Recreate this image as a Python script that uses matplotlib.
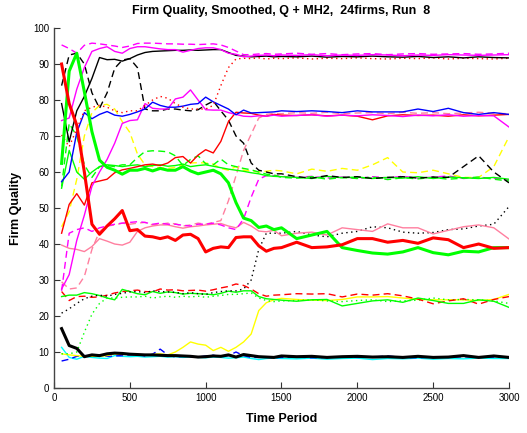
import matplotlib
matplotlib.use("Agg")
import matplotlib.pyplot as plt

# sample times: every 50 periods up to 1500, then every 100
t = list(range(50, 1501, 50)) + list(range(1600, 3001, 100))

red_thick = [90, 79, 73, 60, 45.5, 42.7, 45, 47, 49.3, 43.7, 44, 42.2, 42, 41.5, 42, 41, 42.5, 42.7, 41.5, 37.8,
             38.8, 39.2, 39, 41.8, 42, 42, 39.5, 38, 38.8, 39,
             40.5, 39, 39.2, 39.8, 41.5, 41.5, 40.5, 41, 40.2, 41.7, 41.2, 39, 40, 38.8, 39]
green_thick = [62.4, 88, 93, 82.3, 71.2, 63.3, 61.3, 60.5, 59.4, 60.5, 60.5, 61, 60.3, 61, 60.5, 60.5, 61.5, 60.3, 59.5, 60,
               60.5, 59.5, 57, 51.5, 47.2, 46.5, 44.6, 45, 44, 44.5,
               41.5, 42.5, 43.5, 39, 38.2, 37.5, 37.2, 37.8, 39, 37.6, 37, 38, 37.8, 39, 39]
black_thick = [16.5, 11.8, 11, 8.7, 9.2, 9, 9.5, 9.7, 9.6, 9.4, 9.3, 9.2, 9.2, 9.1, 9, 9, 8.9, 8.8, 8.6, 8.7,
               8.9, 8.8, 9.2, 8.6, 9.3, 9, 8.7, 8.6, 8.5, 8.9,
               8.7, 8.8, 8.5, 8.7, 8.8, 8.6, 8.7, 8.5, 8.8, 8.5, 8.6, 9, 8.5, 8.9, 8.5]

black_solid = [79, 68.4, 77, 81, 86, 91.8, 91.2, 91.3, 90.8, 91.5, 92.5, 93.2, 93.5, 93.6, 93.7, 93.8, 93.8, 93.9, 93.8, 93.9,
               94, 94, 93.2, 92.4, 92.2, 92, 92.1, 92.2, 92, 92.1,
               92, 92.2, 91.9, 92.1, 92, 92.2, 92, 91.9, 92.1, 91.8, 92, 91.7, 92, 91.8, 91.7]
black_dashed = [84, 92.5, 93, 90, 82, 77.7, 82, 88.8, 91.1, 91.5, 89, 77.5, 77, 77, 77.5, 77.5, 77.2, 77, 77.3, 78.6,
                79.7, 77, 74.4, 70, 68, 62.5, 60.5, 60, 59.5, 59.5,
                58.7, 58.3, 59, 58.5, 58.7, 58.2, 58.5, 58.7, 58.3, 58.6, 58.5, 61.5, 64.5, 60, 57]
black_dotted = [20.8, 22, 23.5, 24.8, 25.5, 25.8, 25.5, 26, 26.3, 26.7, 26.8, 26.5, 27, 26.8, 26.7, 26.6, 26.2, 26.5, 26.2, 26,
                26.5, 26.8, 27, 27, 27.5, 30, 38.5, 43, 43, 43,
                43.5, 42.5, 42, 43, 43.5, 44.8, 44.5, 43.3, 43, 43.2, 44, 44.2, 45, 45.5, 50.4]

magenta_dashed_top = [95.3, 94.3, 93, 95.2, 95.8, 95.6, 95.3, 95, 94.6, 95, 95.7, 95.8, 95.8, 95.7, 95.6, 95.6, 95.5, 95.5, 95.4, 95.5,
                      95.6, 95.3, 94.6, 93.6, 92.6, 92.6, 92.8, 92.9, 92.7, 92.8,
                      93, 92.7, 92.9, 92.6, 92.8, 92.9, 92.6, 92.8, 92.9, 92.7, 92.8, 92.9, 92.7, 92.8, 93]
magenta_solid_top = [74.3, 75, 83, 89, 93.5, 94.3, 94.8, 93.5, 93, 94.3, 94.8, 94.8, 94.5, 94.2, 94, 94, 93.3, 93.8, 94.3, 94.5,
                     94.5, 94, 93, 92.7, 92, 92.2, 92.4, 92.5, 92.3, 92.5,
                     92.4, 92.6, 92.3, 92.5, 92.4, 92.6, 92.5, 92.3, 92.5, 92.4, 92.6, 92.5, 92.4, 92.5, 92.6]
red_dotted = [70.3, 67, 72, 77, 78, 78.5, 78, 77, 76.5, 77, 77, 78.5, 80, 81, 80.5, 79, 78, 77.5, 77.5, 77.5,
              78.5, 84, 89, 91.4, 91.6, 91.5, 91.7, 91.4, 91.6, 91.5,
              91.7, 91.4, 91.6, 91.5, 91.7, 91.5, 91.4, 91.6, 91.5, 91.7, 91.4, 91.6, 91.5, 91.4, 91.6]

blue_solid = [57.3, 60, 71, 76.5, 74.8, 76, 76.8, 75.8, 75.5, 76, 76.7, 77.5, 79.4, 78.5, 78, 78, 78.3, 78.8, 79, 80.8,
              79.5, 78.5, 77.5, 75.9, 77.2, 76.4, 76.5, 76.6, 76.7, 77,
              76.8, 77, 76.8, 76.5, 77, 76.7, 76.7, 76.7, 77.5, 76.8, 77.7, 76.5, 76, 76.5, 76]
magenta_solid_mid = [27.5, 31.5, 41, 48, 56, 60, 63.5, 68, 73.5, 74.3, 74.5, 79, 77.7, 77.5, 77.5, 80.3, 80.8, 82.8, 80, 77.3,
                     77.2, 77.2, 76.5, 76, 75.5, 75.4, 75.6, 75.5, 75.8, 75.5,
                     75.7, 75.9, 75.5, 75.8, 75.6, 75.9, 75.7, 75.4, 75.8, 75.6, 75.9, 75.5, 75.7, 75.6, 72.5]
red_solid = [43, 51, 54, 50.8, 57, 57.5, 58, 59.8, 60.6, 61, 61.5, 62, 62.2, 61.8, 62.5, 64, 64.3, 62.5, 64.7, 66.2,
             65.3, 68.5, 74, 76.6, 76.4, 76.3, 75.8, 75.5, 76, 75.8,
             75.7, 75.9, 75.6, 75.8, 75.5, 74.5, 75.6, 75.9, 75.7, 75.8, 75.5, 75.9, 75.6, 75.8, 76]
pink_dashed = [29.5, 27.5, 27.8, 31, 38.5, 43.5, 45, 45.3, 45.8, 45.5, 45.8, 46, 45.3, 45.5, 45.8, 45.6, 45, 45.3, 45.8, 45.5,
               46, 46.5, 52, 59, 66, 70.5, 75, 76, 76.3, 76.2,
               76.5, 76.3, 76.6, 76.2, 76.4, 76.5, 76.2, 76.6, 76.3, 76.5, 76.2, 76.4, 76.6, 76.3, 76.2]
pink_solid = [39.7, 38.8, 38.5, 37.9, 39.3, 41.5, 40.8, 40, 39.7, 40.5, 43.5, 44.5, 45, 45.3, 45.3, 44.8, 44.4, 44.8, 45, 45.3,
              45.5, 45.7, 45, 44.5, 46, 45, 43.6, 43.4, 43.8, 42.3,
              43, 43.3, 42.5, 44.5, 44, 43.5, 45.6, 44.5, 44.5, 42.8, 43.8, 44.8, 45.3, 44.5, 41.4]
magenta_dashed_mid = [27, 43, 44, 44.5, 43.5, 44.5, 45, 45.5, 45.8, 46, 46.2, 46, 45.5, 45.8, 45.5, 45.5, 45.2, 45, 45.5, 45.5,
                      45.8, 45.3, 44.5, 44, 47, 53, 58, 59, 59, 58.8,
                      58.5, 58.8, 58.3, 58.6, 58.2, 58.7, 58.4, 58.8, 58.3, 58.6, 58.9, 58.2, 58.5, 58.3, 57.8]

green_dashed = [56, 73.5, 70, 62, 58.5, 61.5, 61.8, 61.5, 62, 62, 64, 65.7, 65.9, 65.8, 65.6, 64.5, 61.8, 63.5, 64.5, 62.3,
                62, 63.6, 62, 61.5, 61, 60.6, 60, 59.4, 59.2, 58.5,
                58.3, 58.7, 58, 58.5, 58.2, 58.6, 57.9, 58.4, 58.1, 58.5, 58, 58.3, 58.6, 58, 57.5]
green_solid_mid = [55.5, 66, 60, 58, 60, 61.5, 62, 61.8, 61.5, 61.8, 62, 61.5, 61.8, 62, 61.6, 61.8, 62.2, 61.5, 61.8, 62,
                   61.6, 61.2, 60.8, 60.5, 60.2, 59.8, 59.5, 59, 58.8, 58.7,
                   58.5, 58.2, 58.8, 58.4, 58.6, 58.2, 58.5, 58.3, 58.7, 58.2, 58.6, 58.4, 58.2, 58.5, 58]
yellow_dashed = [44.8, 49, 58, 70, 76.5, 78.5, 78.8, 77.5, 74, 71, 65, 62, 61.5, 61.2, 61, 61.3, 62, 62.5, 62.6, 62.5,
                 62.2, 61, 60.5, 61.5, 60.5, 60.3, 60, 60.2, 60.5, 60.3,
                 59.5, 60.8, 60.2, 61, 60.5, 62, 64, 60, 59.8, 60.5, 59.5, 58.5, 58.5, 61.5, 69.8]

green_solid_low = [25.4, 25.8, 25.8, 26.5, 26.2, 25.7, 25, 24.5, 27.4, 26.8, 26.2, 25.9, 26.8, 26.3, 26.7, 26.5, 26.1, 26.3, 26.2, 26.1,
                   25.9, 26.3, 26.9, 26.6, 27, 27, 25.4, 24.8, 24.6, 24.4,
                   24.1, 24.5, 24.6, 22.8, 23.5, 24.2, 24.5, 23.8, 25, 24.3, 23.5, 23.5, 24.5, 24.1, 22.4]
red_dashed = [26.8, 24.3, 25.4, 25.5, 25.2, 25.3, 25.8, 26.4, 26.8, 27, 27.2, 26.8, 26.7, 27.5, 27.2, 27.3, 27, 27.1, 27.2, 26.9,
              27.3, 27.8, 28.2, 28.9, 28.5, 27.5, 26.2, 25.5, 25.8, 25.9,
              26.2, 26.1, 26.2, 25.3, 26.1, 25.8, 26.2, 25.6, 24.7, 23.4, 24.2, 24.8, 23.3, 24.6, 25.4]
green_dotted = [9.5, 9.5, 10, 15.5, 20.5, 23.5, 25, 25, 25.2, 25.3, 25.3, 25.5, 25, 25.3, 25.5, 25.2, 25.5, 25.3, 25.5, 25.2,
                25.5, 25.7, 26, 26, 26.2, 26.4, 25, 24.3, 24, 24.2,
                24.3, 24.5, 24.2, 24, 24.3, 24.5, 24, 24.2, 24.4, 25, 24.5, 24.6, 24.5, 24.2, 23.5]
yellow_solid = [9.5, 9.2, 9, 8.8, 8.8, 8.8, 9, 9.5, 9.3, 9.5, 9.3, 9.2, 9.3, 9.5, 9.2, 10, 11.3, 12.8, 12.2, 11.9,
                10.4, 11.3, 10.2, 11.3, 12.8, 15, 21.5, 23.7, 24.5, 24.9,
                24.6, 24.4, 24.3, 24.6, 25.3, 25.3, 25.4, 25, 24.6, 24.5, 24.5, 24.5, 24.3, 24.6, 26]
blue_dashed = [7.5, 8, 8.8, 9, 9, 9.2, 8.8, 8.9, 9, 9.2, 9.3, 8.9, 9.4, 10.8, 9.2, 8.6, 8.8, 8.7, 8.6, 8.9,
               9.1, 8.7, 9, 10, 9, 8.5, 8.5, 8.6, 8.4, 8.5,
               8.6, 8.4, 8.5, 8.7, 8.5, 8.6, 8.9, 8.5, 8.4, 8.6, 8.5, 8.7, 8.5, 8.6, 8.5]
cyan_solid = [11.3, 8.5, 8, 8.8, 8.5, 8.3, 8.2, 9, 8.8, 8.7, 8.8, 8.6, 8.7, 8.8, 8.6, 8.7, 8.5, 8.6, 8.5, 8.4,
              8.6, 8.5, 8.3, 8.4, 8.6, 8.2, 7.9, 8.2, 8.3, 8.2,
              8.1, 8.3, 8, 8.2, 8.3, 7.9, 8.2, 8.1, 8.3, 8, 8.2, 8.1, 8.3, 8.2, 8.2]

# matlab-style pure colours
R, G, B = "#ff0000", "#00ff00", "#0000ff"
C, M, Y, K = "#00ffff", "#ff00ff", "#ffff00", "#000000"
PINK = "#ff7f9f"
DASH = (0, (5, 3))
DOT = (0, (1, 2.5))

# (values, colour, linestyle, linewidth)
firms = [
    (cyan_solid, C, "-", 1.0),
    (blue_dashed, B, DASH, 1.0),
    (yellow_solid, Y, "-", 1.0),
    (green_dotted, G, DOT, 1.0),
    (red_dashed, R, DASH, 1.0),
    (green_solid_low, G, "-", 1.0),
    (black_dotted, K, DOT, 1.0),
    (pink_solid, PINK, "-", 1.0),
    (pink_dashed, PINK, DASH, 1.0),
    (magenta_dashed_mid, M, DASH, 1.0),
    (yellow_dashed, Y, DASH, 1.0),
    (green_solid_mid, G, "-", 1.0),
    (green_dashed, G, DASH, 1.0),
    (black_dashed, K, DASH, 1.0),
    (red_solid, R, "-", 1.0),
    (magenta_solid_mid, M, "-", 1.0),
    (blue_solid, B, "-", 1.0),
    (red_dotted, R, DOT, 1.0),
    (black_solid, K, "-", 1.0),
    (magenta_solid_top, M, "-", 1.0),
    (magenta_dashed_top, M, DASH, 1.0),
    (black_thick, K, "-", 2.2),
    (green_thick, G, "-", 2.2),
    (red_thick, R, "-", 2.2),
]

plt.rcParams["font.family"] = ["Liberation Sans", "DejaVu Sans"]

fig = plt.figure(figsize=(5.27, 4.33), dpi=100)
ax = fig.add_axes([0.1025, 0.1039, 0.8633, 0.8314])

for vals, col, ls, lw in firms:
    ax.plot(t, vals, color=col, linestyle=ls, linewidth=lw)

ax.set_xlim(0, 3000)
ax.set_ylim(0, 100)
ax.set_xticks(range(0, 3001, 500))
ax.set_yticks(range(0, 101, 10))
ax.tick_params(direction="in", length=4, labelsize=7, width=0.8, colors="#333333", labelcolor="black")
ax.spines["top"].set_visible(False)
ax.spines["right"].set_visible(False)
for s in ("left", "bottom"):
    ax.spines[s].set_color("#444444")
    ax.spines[s].set_linewidth(1.0)

ax.set_xlabel("Time Period", fontsize=9, fontweight="bold", labelpad=7)
ax.set_ylabel("Firm Quality", fontsize=9, fontweight="bold", labelpad=8)
ax.set_title("Firm Quality, Smoothed, Q + MH2,  24firms, Run  8", fontsize=9, fontweight="bold", pad=10)

fig.savefig("out.png", dpi=100)
